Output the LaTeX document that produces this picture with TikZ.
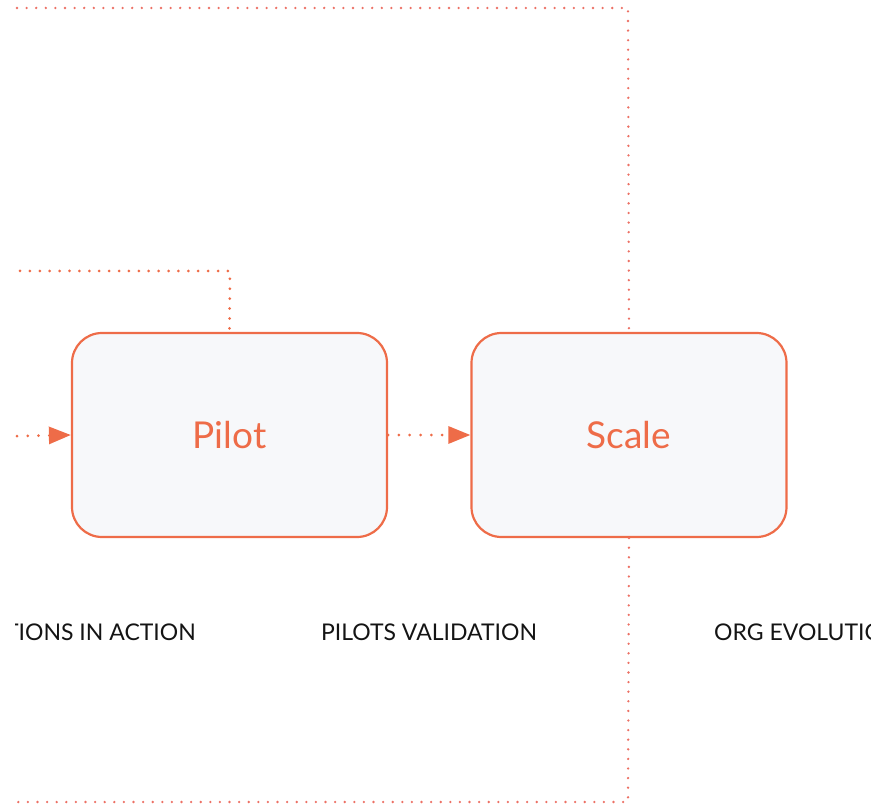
\documentclass[tikz,border=0pt]{standalone}
\usepackage{fontspec}
\setmainfont{Lato}
\usetikzlibrary{arrows.meta}
\definecolor{accent}{RGB}{238,108,72}
\definecolor{loopc}{RGB}{236,112,100}
\definecolor{boxfill}{RGB}{247,248,250}
\definecolor{labelc}{RGB}{20,20,20}
\tikzset{
  stagebox/.style={draw=accent, line width=2.2pt, fill=boxfill, rounded corners=30pt,
    minimum width=315pt, minimum height=204pt, inner sep=0pt,
    text=accent, font=\fontsize{37pt}{44pt}\selectfont},
  flowarrow/.style={draw=accent, line width=3pt, dash pattern=on 0pt off 10.8pt, line cap=round,
    -{Triangle[length=22pt,width=17pt,line cap=butt]}},
  feedback/.style={draw=accent, line width=3pt, dash pattern=on 0pt off 9.9pt, line cap=round},
  bigloop/.style={draw=loopc, line width=2.6pt, dash pattern=on 0pt off 9.6pt, line cap=round},
  phaselabel/.style={text=labelc, font=\fontsize{23pt}{27pt}\selectfont, inner sep=0pt, anchor=base}
}
\begin{document}
\begin{tikzpicture}[x=1pt,y=-1pt]
\useasboundingbox (0,0) rectangle (871,805);
\clip (15,0) rectangle (871,805);
\node[stagebox] (pilot) at (229.5,435) {Pilot};
\node[stagebox] (scale) at (629,435) {Scale};
\coordinate (inL) at (17,436);
\coordinate (fbL) at (20,271);
\coordinate (fbC) at (230,271);
\coordinate (topL) at (17,8);
\coordinate (topC) at (628,8);
\coordinate (botC) at (628,802);
\coordinate (botL) at (17,802);
\draw[flowarrow] (inL) -- (pilot.west);
\draw[flowarrow] (pilot.east) -- (scale.west);
\draw[feedback] (fbL) -- (fbC) -- (pilot.north);
\draw[bigloop] (topL) -- (topC) -- (scale.north);
\draw[bigloop] (scale.south) -- (botC) -- (botL);
\node[phaselabel, anchor=base east] (l1) at (196,640) {TIONS IN ACTION};
\node[phaselabel] (l2) at (429,640) {PILOTS VALIDATION};
\node[phaselabel, anchor=base west] (l3) at (714,640) {ORG EVOLUTION};
\end{tikzpicture}
\end{document}
